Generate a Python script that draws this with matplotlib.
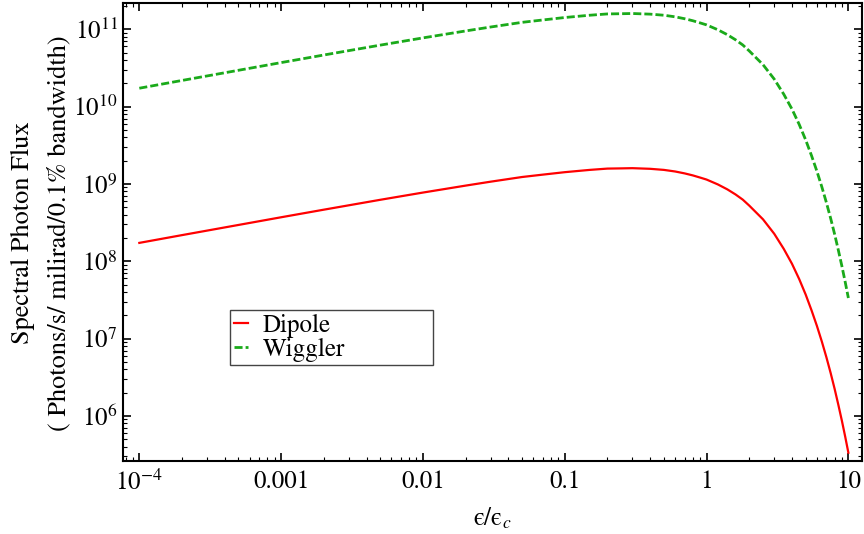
import numpy as np
import matplotlib.pyplot as plt

plt.rcParams['font.family'] = ['STIXGeneral', 'DejaVu Serif']
plt.rcParams['mathtext.fontset'] = 'stix'

# photon energy relative to the critical energy
energy_ratio = [1e-4, 2e-4, 5e-4, 1e-3, 2e-3, 5e-3, 0.01, 0.02, 0.03, 0.05,
                0.07, 0.1, 0.15, 0.2, 0.25, 0.3, 0.4, 0.5, 0.6, 0.7,
                0.8, 0.9, 1.0, 1.2, 1.4, 1.6, 1.8, 2.0, 2.5, 3.0,
                3.5, 4.0, 4.5, 5.0, 5.5, 6.0, 6.5, 7.0, 7.5, 8.0,
                8.5, 9.0, 9.5, 10.0]

# spectral flux, photons/s/mrad/0.1% bw
dipole_flux = [1.73e8, 2.18e8, 2.95e8, 3.71e8, 4.65e8, 6.24e8, 7.74e8, 9.52e8, 1.07e9, 1.23e9,
               1.32e9, 1.42e9, 1.52e9, 1.58e9, 1.59e9, 1.60e9, 1.57e9, 1.52e9, 1.45e9, 1.37e9,
               1.29e9, 1.21e9, 1.14e9, 9.87e8, 8.52e8, 7.32e8, 6.27e8, 5.25e8, 3.49e8, 2.27e8,
               1.45e8, 9.31e7, 5.89e7, 3.71e7, 2.32e7, 1.46e7, 9.16e6, 5.74e6, 3.59e6, 2.24e6,
               1.39e6, 8.68e5, 5.39e5, 3.35e5]
wiggler_flux = [1.73e10, 2.18e10, 2.95e10, 3.71e10, 4.65e10, 6.24e10, 7.74e10, 9.52e10, 1.07e11, 1.23e11,
                1.32e11, 1.42e11, 1.52e11, 1.58e11, 1.59e11, 1.60e11, 1.57e11, 1.52e11, 1.45e11, 1.37e11,
                1.29e11, 1.21e11, 1.14e11, 9.87e10, 8.52e10, 7.32e10, 6.27e10, 5.25e10, 3.49e10, 2.27e10,
                1.45e10, 9.31e9, 5.89e9, 3.71e9, 2.32e9, 1.46e9, 9.16e8, 5.74e8, 3.59e8, 2.24e8,
                1.39e8, 8.68e7, 5.39e7, 3.35e7]

xtick_vals = [1e-4, 1e-3, 1e-2, 1e-1, 1, 10]
xtick_labels = [r'$10^{-4}$', '0.001', '0.01', '0.1', '1', '10']
ytick_vals = [1e6, 1e7, 1e8, 1e9, 1e10, 1e11]
ytick_labels = [r'$10^{%d}$' % k for k in range(6, 12)]

fig = plt.figure(figsize=(8.64, 5.34), dpi=100)
ax = fig.add_axes([123.3 / 864, 1 - 460.5 / 534, 738.4 / 864, 457.5 / 534])

ax.plot(energy_ratio, dipole_flux, color='#ff0000', lw=1.6, label='Dipole')
ax.plot(energy_ratio, wiggler_flux, color='#1aaa1a', lw=2.0, dashes=(2.9, 1.1), label='Wiggler')

ax.set_xscale('log')
ax.set_yscale('log')
ax.set_xlim(10 ** -4.113, 10 ** 1.094)
ax.set_ylim(10 ** 5.424, 10 ** 11.34)

ax.set_xticks(xtick_vals)
ax.set_xticklabels(xtick_labels)
ax.set_yticks(ytick_vals)
ax.set_yticklabels(ytick_labels)

ax.tick_params(which='both', direction='in', top=True, right=True, labelsize=18)
ax.tick_params(which='major', length=6, width=1.2)
ax.tick_params(which='minor', length=3, width=0.8)
ax.tick_params(axis='y', pad=4)
ax.tick_params(axis='x', pad=7)
for s in ax.spines.values():
    s.set_linewidth(1.5)

# lunate epsilon, as in the usual E/Ec notation
ax.set_xlabel('\u03f5/\u03f5$_c$', fontsize=18, labelpad=8)
fig.text(41 / 864, 1 - 233 / 534,
         'Spectral Photon Flux\n( Photons/s/ milirad/0.1% bandwidth)',
         rotation=90, ha='center', va='center', fontsize=19, linespacing=1.7)

leg = ax.legend(loc='lower left', bbox_to_anchor=(0.145, 0.208, 0.274, 0.12),
                mode='expand', borderaxespad=0, fontsize=18,
                handlelength=0.55, handletextpad=0.6, labelspacing=0.0,
                borderpad=0.15, fancybox=False, framealpha=1)
leg.get_frame().set_edgecolor('#444444')
leg.get_frame().set_linewidth(1.0)

fig.savefig('out.png', dpi=100)
